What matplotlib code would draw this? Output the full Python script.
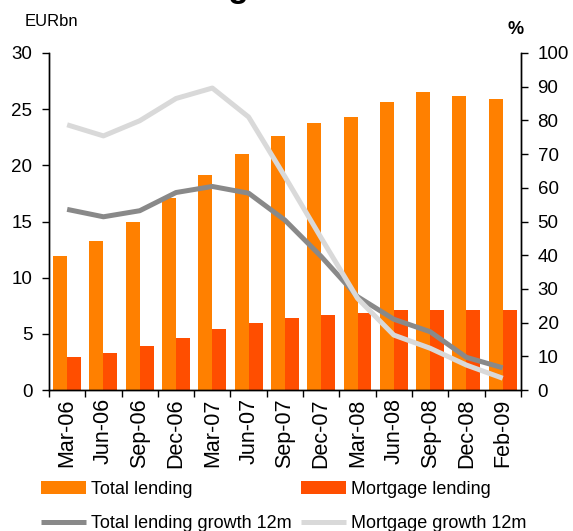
import numpy as np
import matplotlib.pyplot as plt
from matplotlib.ticker import FixedLocator

plt.rcParams['font.family'] = ['Liberation Sans', 'DejaVu Sans']

# -------------------------------
# Data
# -------------------------------
months = ["Mar-06", "Jun-06", "Sep-06", "Dec-06", "Mar-07", "Jun-07", "Sep-07",
          "Dec-07", "Mar-08", "Jun-08", "Sep-08", "Dec-08", "Feb-09"]
total_lending = [11.9, 13.3, 15.0, 17.1, 19.1, 21.0, 22.6, 23.8, 24.3, 25.6, 26.5, 26.2, 25.9]
mortgage_lending = [2.9, 3.3, 3.9, 4.6, 5.4, 6.0, 6.4, 6.7, 6.9, 7.1, 7.1, 7.1, 7.1]
total_growth = [53.6, 51.4, 53.2, 58.6, 60.4, 58.4, 50.4, 39.6, 27.7, 21.0, 17.3, 9.7, 6.6]
mortgage_growth = [78.7, 75.4, 79.9, 86.5, 89.6, 81.0, 63.3, 45.1, 27.2, 16.3, 12.4, 7.4, 3.5]

ORANGE = "#FF8000"
RED = "#FF4E00"
DARK = "#898989"
LIGHT = "#D9D9D9"

# -------------------------------
# Figure
# -------------------------------
fig = plt.figure(figsize=(5.73, 5.31), dpi=100)
ax = fig.add_axes([0.0855, 0.2655, 0.8235, 0.6347])
ax2 = ax.twinx()

x = np.arange(len(months))
w = 0.385
bar1 = ax.bar(x - w / 2, total_lending, width=w, color=ORANGE, zorder=2)
bar2 = ax.bar(x + w / 2, mortgage_lending, width=w, color=RED, zorder=2)

line1, = ax2.plot(x, total_growth, color=DARK, lw=3.6, solid_capstyle="butt")
line2, = ax2.plot(x, mortgage_growth, color=LIGHT, lw=3.6, solid_capstyle="butt")
# lines sit above the bars
ax.set_zorder(1)
ax2.set_zorder(2)
ax.patch.set_visible(False)

ax.set_xlim(-0.5, len(months) - 0.5)
ax.set_ylim(0, 30)
ax2.set_ylim(0, 100)
ax.set_yticks(range(0, 31, 5))
ax2.set_yticks(range(0, 101, 10))

ax.set_xticks(x)
ax.set_xticklabels(months, rotation=90)
ax.xaxis.set_minor_locator(FixedLocator(np.arange(-0.5, len(months), 1.0)))
ax.tick_params(axis="x", which="major", length=0, pad=6, labelsize=15.5)
ax.tick_params(axis="x", which="minor", length=5, width=1, direction="out")
ax.tick_params(axis="y", length=5, width=1, pad=7, labelsize=13.5)
ax2.tick_params(axis="y", length=5, width=1, pad=7, labelsize=13.5)

for a in (ax, ax2):
    a.spines["top"].set_visible(False)
    for s in ("left", "right", "bottom"):
        a.spines[s].set_linewidth(1)

# title is mostly off the top edge in the reference
fig.text(43 / 573, 1 + 3 / 531, "Total lending market", fontsize=24, fontweight="bold",
         ha="left", va="baseline")
fig.text(51 / 573, 1 - 22 / 531, "EURbn", fontsize=12, ha="center", va="center")
fig.text(516 / 573, 1 - 29 / 531, "%", fontsize=13, fontweight="bold", ha="center", va="center")

fig.legend([bar1, line1, bar2, line2],
           ["Total lending", "Total lending growth 12m", "Mortgage lending", "Mortgage growth 12m"],
           ncol=2, loc="upper left", bbox_to_anchor=(41 / 573, 1 - 481 / 531),
           frameon=False, fontsize=13, handlelength=2.5, handleheight=0.7,
           handletextpad=0.25, columnspacing=0.55, labelspacing=0.95, borderpad=0,
           borderaxespad=0)

fig.savefig("out.png", dpi=100)
